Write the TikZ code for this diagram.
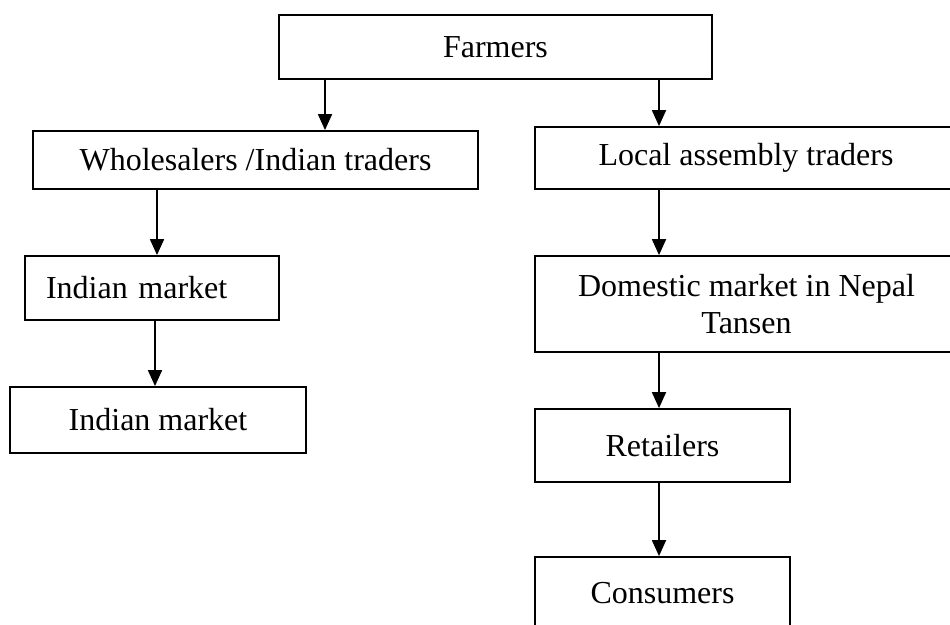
\documentclass[tikz,border=0pt]{standalone}
\usepackage{fontspec}
\setmainfont{Liberation Serif}
\usetikzlibrary{arrows.meta}

\begin{document}
\begin{tikzpicture}[x=1pt, y=-1pt, line width=1.8pt,
                    main node/.style={rectangle,draw,inner sep=0pt,font=\fontsize{32}{37}\selectfont},
                    flow/.style={-{Triangle[width=14pt,length=16pt]}}]

  \useasboundingbox (0,0) rectangle (950,624);
  \clip (0,0) rectangle (950,624);

  % top level
  \node[main node,minimum width=433pt,minimum height=64pt] (farmers) at (495.5,47) {Farmers};

  % left branch
  \node[main node,minimum width=445pt,minimum height=58pt] (wholesale) at (255.5,160) {Wholesalers /Indian traders};
  \node[main node,minimum height=64pt,text width=212pt,inner xsep=21pt,align=left] (indmkt1) at (152,288) {Indian market};
  \node[main node,minimum width=296pt,minimum height=66pt] (indmkt2) at (158,420) {Indian market};

  % right branch
  \node[main node,minimum width=422pt,minimum height=62pt] (local) at (746,158) {Local assembly traders};
  \node[main node,minimum width=423pt,minimum height=96pt,align=center] (domestic) at (746.5,304) {Domestic market in Nepal\\Tansen};
  \node[main node,minimum width=255pt,minimum height=73pt] (retail) at (662.5,445.5) {Retailers};
  \node[main node,minimum width=255pt,minimum height=73pt] (consumer) at (662.5,593.5) {Consumers};

  \draw[flow] (farmers.south -| 325,0) -- (wholesale.north -| 325,0);
  \draw[flow] (farmers.south -| 659,0) -- (local.north -| 659,0);
  \draw[flow] (wholesale.south -| 157,0) -- (indmkt1.north -| 157,0);
  \draw[flow] (indmkt1.south -| 155,0) -- (indmkt2.north -| 155,0);
  \draw[flow] (local.south -| 659,0) -- (domestic.north -| 659,0);
  \draw[flow] (domestic.south -| 659,0) -- (retail.north -| 659,0);
  \draw[flow] (retail.south -| 659,0) -- (consumer.north -| 659,0);

\end{tikzpicture}
\end{document}
